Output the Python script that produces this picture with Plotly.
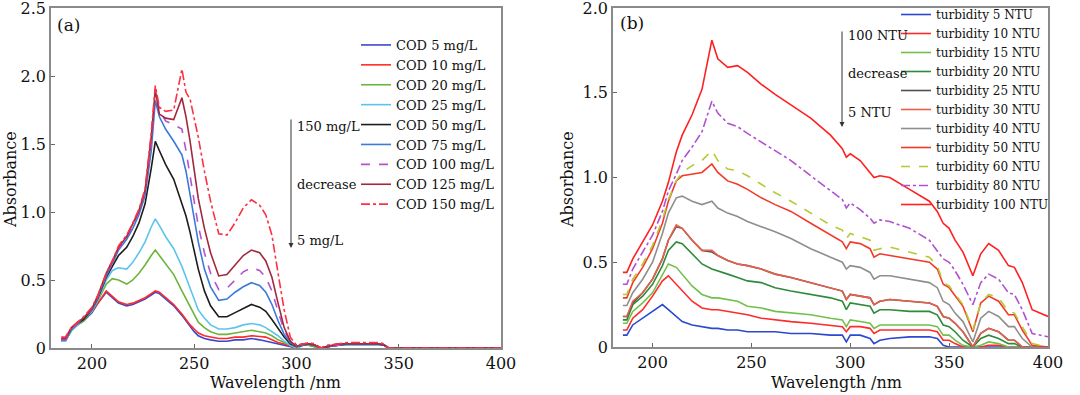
import plotly.graph_objects as go

# ---------------- Panel (a): COD spectra ----------------
wl_a = [185, 187, 190, 193, 196, 200, 203, 207, 210, 213, 217, 220, 223, 226, 229, 231, 233, 236,
        240, 244, 246, 248, 250, 252, 255, 258, 262, 266, 270, 274, 278, 282, 285, 288, 291, 294,
        297, 300, 303, 306, 309, 312, 315, 320, 325, 330, 335, 340, 343, 345, 350, 400]

cod_names = ["COD 5 mg/L", "COD 10 mg/L", "COD 20 mg/L", "COD 25 mg/L", "COD 50 mg/L",
             "COD 75 mg/L", "COD 100 mg/L", "COD 125 mg/L", "COD 150 mg/L"]

cod_5 = [0.05, 0.05, 0.13, 0.17, 0.20, 0.26, 0.33, 0.41, 0.37, 0.33, 0.31, 0.32, 0.34, 0.36, 0.39, 0.41, 0.40, 0.36,
         0.31, 0.24, 0.20, 0.16, 0.12, 0.09, 0.07, 0.06, 0.05, 0.05, 0.06, 0.06, 0.07, 0.06, 0.05, 0.04, 0.03, 0.02,
         0.01, 0.00, 0.02, 0.02, 0.01, 0.00, 0.01, 0.02, 0.02, 0.02, 0.02, 0.02, 0.02, 0.00, 0.00, 0.00]
cod_10 = [0.06, 0.06, 0.14, 0.18, 0.21, 0.27, 0.33, 0.42, 0.38, 0.34, 0.32, 0.33, 0.35, 0.37, 0.40, 0.42, 0.41, 0.37,
          0.32, 0.25, 0.21, 0.17, 0.14, 0.11, 0.09, 0.08, 0.07, 0.07, 0.08, 0.08, 0.09, 0.085, 0.08, 0.06, 0.04, 0.03,
          0.015, 0.00, 0.02, 0.03, 0.02, 0.00, 0.01, 0.02, 0.03, 0.03, 0.03, 0.03, 0.02, 0.00, 0.00, 0.00]
cod_20 = [0.05, 0.05, 0.13, 0.17, 0.20, 0.27, 0.35, 0.47, 0.51, 0.50, 0.47, 0.50, 0.55, 0.61, 0.68, 0.72, 0.68, 0.62,
          0.54, 0.42, 0.36, 0.30, 0.24, 0.19, 0.15, 0.12, 0.10, 0.10, 0.11, 0.12, 0.13, 0.12, 0.11, 0.09, 0.06, 0.04,
          0.02, 0.00, 0.02, 0.02, 0.01, 0.00, 0.01, 0.02, 0.02, 0.02, 0.02, 0.02, 0.02, 0.00, 0.00, 0.00]
cod_25 = [0.05, 0.05, 0.13, 0.17, 0.21, 0.27, 0.36, 0.50, 0.57, 0.59, 0.58, 0.63, 0.70, 0.78, 0.89, 0.95, 0.90, 0.82,
          0.73, 0.60, 0.52, 0.44, 0.36, 0.28, 0.22, 0.17, 0.14, 0.14, 0.15, 0.17, 0.18, 0.17, 0.15, 0.12, 0.09, 0.05,
          0.02, 0.00, 0.02, 0.03, 0.02, 0.00, 0.01, 0.02, 0.02, 0.02, 0.02, 0.02, 0.02, 0.00, 0.00, 0.00]
cod_50 = [0.06, 0.06, 0.14, 0.18, 0.21, 0.28, 0.37, 0.52, 0.60, 0.68, 0.74, 0.82, 0.92, 1.06, 1.32, 1.52, 1.45, 1.35,
          1.24, 1.07, 0.97, 0.85, 0.72, 0.58, 0.42, 0.31, 0.23, 0.23, 0.26, 0.29, 0.32, 0.30, 0.27, 0.21, 0.14, 0.08,
          0.03, 0.01, 0.02, 0.03, 0.02, 0.00, 0.01, 0.02, 0.03, 0.03, 0.03, 0.03, 0.02, 0.00, 0.00, 0.00]
cod_75 = [0.06, 0.06, 0.14, 0.18, 0.22, 0.28, 0.38, 0.53, 0.62, 0.72, 0.80, 0.88, 0.98, 1.12, 1.45, 1.82, 1.70, 1.61,
          1.52, 1.42, 1.30, 1.12, 0.95, 0.78, 0.58, 0.45, 0.35, 0.36, 0.41, 0.45, 0.48, 0.46, 0.41, 0.32, 0.20, 0.10,
          0.04, 0.01, 0.02, 0.03, 0.02, 0.00, 0.01, 0.02, 0.03, 0.03, 0.03, 0.03, 0.02, 0.00, 0.00, 0.00]
cod_100 = [0.06, 0.06, 0.14, 0.18, 0.22, 0.28, 0.38, 0.54, 0.63, 0.73, 0.81, 0.90, 1.00, 1.15, 1.50, 1.90, 1.75, 1.67,
           1.64, 1.61, 1.45, 1.25, 1.08, 0.90, 0.70, 0.55, 0.43, 0.44, 0.50, 0.56, 0.59, 0.57, 0.52, 0.42, 0.27, 0.13,
           0.05, 0.01, 0.03, 0.03, 0.02, 0.00, 0.01, 0.02, 0.03, 0.03, 0.03, 0.03, 0.02, 0.00, 0.00, 0.00]
cod_125 = [0.07, 0.07, 0.15, 0.19, 0.22, 0.29, 0.39, 0.55, 0.64, 0.74, 0.82, 0.91, 1.01, 1.16, 1.55, 1.90, 1.72, 1.69,
           1.68, 1.84, 1.70, 1.52, 1.30, 1.10, 0.88, 0.70, 0.53, 0.54, 0.61, 0.68, 0.72, 0.70, 0.64, 0.52, 0.33, 0.15,
           0.05, 0.01, 0.03, 0.03, 0.02, 0.00, 0.01, 0.03, 0.03, 0.03, 0.03, 0.03, 0.02, 0.00, 0.00, 0.00]
cod_150 = [0.08, 0.08, 0.15, 0.19, 0.23, 0.30, 0.39, 0.55, 0.64, 0.75, 0.83, 0.92, 1.02, 1.17, 1.58, 1.93, 1.77, 1.74,
           1.75, 2.05, 1.88, 1.83, 1.70, 1.55, 1.30, 1.08, 0.84, 0.83, 0.92, 1.03, 1.09, 1.05, 0.98, 0.83, 0.55, 0.28,
           0.08, 0.02, 0.03, 0.04, 0.03, 0.00, 0.02, 0.03, 0.04, 0.04, 0.04, 0.04, 0.03, 0.00, 0.00, 0.00]

cod_series = [cod_5, cod_10, cod_20, cod_25, cod_50, cod_75, cod_100, cod_125, cod_150]
cod_colors = ["#3a48c8", "#ff2a2a", "#6cb43c", "#5cc4ec", "#1c1c1c", "#3a7ad8", "#b452d2", "#a2283e", "#ff3040"]
cod_dash = ["solid", "solid", "solid", "solid", "solid", "solid", "dash", "solid", "dashdot"]

# ---------------- Panel (b): turbidity spectra ----------------
wl_b = [185, 187, 190, 195, 200, 205, 208, 212, 215, 220, 225, 230, 233, 238, 243, 248, 255, 262, 270, 280,
        290, 296, 298, 300, 305, 310, 312, 315, 320, 330, 340, 344, 347, 350, 353, 357, 362, 366, 370, 375,
        380, 383, 387, 392, 400]

ntu_names = ["turbidity 5 NTU", "turbidity 10 NTU", "turbidity 15 NTU", "turbidity 20 NTU",
             "turbidity 25 NTU", "turbidity 30 NTU", "turbidity 40 NTU", "turbidity 50 NTU",
             "turbidity 60 NTU", "turbidity 80 NTU", "turbidity 100 NTU"]

ntu_5 = [0.07, 0.07, 0.13, 0.17, 0.21, 0.25, 0.22, 0.18, 0.15, 0.13, 0.12, 0.11, 0.11, 0.10, 0.10, 0.09, 0.09, 0.09, 0.08, 0.08,
         0.07, 0.07, 0.03, 0.07, 0.07, 0.05, 0.02, 0.04, 0.05, 0.06, 0.06, 0.05, 0.01, 0.00, 0.00, 0.00, 0.00, 0.00, 0.00, 0.00,
         0.00, 0.00, 0.00, 0.00, 0.00]
ntu_10 = [0.10, 0.10, 0.17, 0.22, 0.30, 0.39, 0.42, 0.37, 0.33, 0.27, 0.23, 0.22, 0.22, 0.21, 0.20, 0.19, 0.17, 0.16, 0.15, 0.14,
          0.13, 0.12, 0.09, 0.12, 0.12, 0.11, 0.08, 0.10, 0.10, 0.10, 0.10, 0.09, 0.04, 0.04, 0.02, 0.00, 0.00, 0.00, 0.01, 0.01,
          0.00, 0.00, 0.00, 0.00, 0.00]
ntu_15 = [0.14, 0.14, 0.21, 0.26, 0.32, 0.43, 0.49, 0.47, 0.43, 0.36, 0.31, 0.29, 0.29, 0.28, 0.27, 0.24, 0.23, 0.21, 0.20, 0.19,
          0.17, 0.16, 0.12, 0.16, 0.15, 0.14, 0.11, 0.13, 0.13, 0.13, 0.13, 0.12, 0.07, 0.07, 0.04, 0.01, 0.00, 0.01, 0.03, 0.02,
          0.00, 0.00, 0.00, 0.00, 0.00]
ntu_20 = [0.16, 0.16, 0.25, 0.30, 0.37, 0.48, 0.57, 0.62, 0.61, 0.55, 0.49, 0.46, 0.45, 0.43, 0.41, 0.39, 0.38, 0.35, 0.33, 0.31,
          0.29, 0.27, 0.22, 0.26, 0.25, 0.24, 0.20, 0.22, 0.22, 0.21, 0.21, 0.19, 0.13, 0.12, 0.09, 0.04, 0.00, 0.05, 0.07, 0.05,
          0.02, 0.02, 0.00, 0.00, 0.00]
ntu_25 = [0.18, 0.18, 0.26, 0.32, 0.40, 0.52, 0.63, 0.71, 0.70, 0.63, 0.57, 0.56, 0.54, 0.51, 0.49, 0.48, 0.46, 0.43, 0.41, 0.38,
          0.35, 0.33, 0.28, 0.31, 0.30, 0.29, 0.25, 0.27, 0.28, 0.27, 0.26, 0.24, 0.18, 0.17, 0.14, 0.09, 0.00, 0.08, 0.11, 0.09,
          0.04, 0.04, 0.00, 0.00, 0.00]
ntu_30 = [0.18, 0.18, 0.27, 0.32, 0.40, 0.52, 0.63, 0.72, 0.70, 0.63, 0.57, 0.57, 0.54, 0.51, 0.49, 0.48, 0.46, 0.43, 0.41, 0.38,
          0.35, 0.33, 0.28, 0.31, 0.30, 0.29, 0.25, 0.27, 0.28, 0.27, 0.26, 0.24, 0.18, 0.17, 0.14, 0.09, 0.00, 0.08, 0.11, 0.09,
          0.04, 0.04, 0.00, 0.00, 0.00]
ntu_40 = [0.245, 0.245, 0.32, 0.40, 0.50, 0.67, 0.79, 0.88, 0.89, 0.86, 0.84, 0.86, 0.82, 0.79, 0.77, 0.74, 0.71, 0.68, 0.64, 0.58,
          0.53, 0.50, 0.46, 0.48, 0.47, 0.44, 0.40, 0.42, 0.42, 0.40, 0.38, 0.35, 0.27, 0.25, 0.20, 0.15, 0.03, 0.17, 0.21, 0.18,
          0.12, 0.12, 0.05, 0.00, 0.00]
ntu_50 = [0.29, 0.29, 0.38, 0.47, 0.58, 0.73, 0.86, 0.98, 1.01, 1.02, 1.03, 1.08, 1.03, 0.98, 0.96, 0.93, 0.88, 0.84, 0.80, 0.73,
          0.66, 0.62, 0.58, 0.62, 0.61, 0.58, 0.53, 0.55, 0.54, 0.52, 0.50, 0.46, 0.37, 0.35, 0.30, 0.24, 0.09, 0.26, 0.30, 0.27,
          0.19, 0.19, 0.10, 0.01, 0.00]
ntu_60 = [0.31, 0.31, 0.40, 0.49, 0.60, 0.75, 0.87, 0.98, 1.03, 1.07, 1.10, 1.16, 1.10, 1.05, 1.04, 1.01, 0.96, 0.91, 0.86, 0.79,
          0.72, 0.69, 0.64, 0.67, 0.65, 0.63, 0.57, 0.58, 0.59, 0.56, 0.53, 0.48, 0.38, 0.36, 0.31, 0.25, 0.10, 0.26, 0.31, 0.29,
          0.21, 0.20, 0.12, 0.02, 0.00]
ntu_80 = [0.37, 0.37, 0.46, 0.56, 0.66, 0.80, 0.92, 1.02, 1.10, 1.18, 1.27, 1.45, 1.38, 1.32, 1.30, 1.26, 1.21, 1.16, 1.10, 1.01,
          0.92, 0.87, 0.82, 0.85, 0.81, 0.76, 0.73, 0.75, 0.74, 0.70, 0.63, 0.57, 0.52, 0.50, 0.45, 0.37, 0.25, 0.38, 0.43, 0.40,
          0.32, 0.31, 0.22, 0.08, 0.06]
ntu_100 = [0.44, 0.44, 0.52, 0.62, 0.72, 0.86, 0.97, 1.15, 1.25, 1.37, 1.52, 1.81, 1.70, 1.65, 1.66, 1.62, 1.55, 1.49, 1.43, 1.35,
           1.25, 1.17, 1.12, 1.14, 1.10, 1.03, 1.00, 1.01, 1.00, 0.93, 0.86, 0.80, 0.73, 0.70, 0.63, 0.56, 0.42, 0.55, 0.61, 0.57,
           0.48, 0.47, 0.38, 0.22, 0.18]

ntu_series = [ntu_5, ntu_10, ntu_15, ntu_20, ntu_25, ntu_30, ntu_40, ntu_50, ntu_60, ntu_80, ntu_100]
ntu_colors = ["#2a48d0", "#ff2a2a", "#72c04c", "#2e8a3a", "#505050", "#e8604a", "#8e8e8e", "#f23a28",
              "#b8c832", "#b052d0", "#ff2020"]
ntu_dash = ["solid", "solid", "solid", "solid", "solid", "solid", "solid", "solid", "dash", "dashdot", "solid"]

# tick labels
a_yticks = [0, 0.5, 1.0, 1.5, 2.0, 2.5]
a_yticktext = ["0", "0.5", "1.0", "1.5", "2.0", "2.5"]
b_yticks = [0, 0.5, 1.0, 1.5, 2.0]
b_yticktext = ["0", "0.5", "1.0", "1.5", "2.0"]
x_ticks = [200, 250, 300, 350, 400]

FONT = "DejaVu Serif"
W, H = 1080, 395

fig = go.Figure()
for name, ys, col, dsh in zip(cod_names, cod_series, cod_colors, cod_dash):
    fig.add_trace(go.Scatter(x=wl_a, y=ys, name=name, mode="lines",
                             line=dict(color=col, width=1.6, dash=dsh),
                             xaxis="x", yaxis="y", legend="legend"))
for name, ys, col, dsh in zip(ntu_names, ntu_series, ntu_colors, ntu_dash):
    fig.add_trace(go.Scatter(x=wl_b, y=ys, name=name, mode="lines",
                             line=dict(color=col, width=1.6, dash=dsh),
                             xaxis="x2", yaxis="y2", legend="legend2"))

def px(x):
    return x / W

def py(y):
    return 1 - y / H

axis_common = dict(showline=True, linecolor="#8a8a8a", linewidth=1.5, mirror=True,
                   ticks="inside", ticklen=4, tickcolor="#666", showgrid=False, zeroline=False,
                   ticklabeloverflow="allow",
                   tickfont=dict(family=FONT, size=16, color="#111"))

fig.update_layout(
    width=W, height=H, paper_bgcolor="white", plot_bgcolor="white",
    margin=dict(l=0, r=0, t=0, b=0, autoexpand=False),
    xaxis=dict(domain=[px(51), px(501)], range=[180, 400], tickvals=x_ticks, anchor="y", **axis_common),
    yaxis=dict(domain=[py(348), py(8)], range=[0, 2.5], tickvals=a_yticks, ticktext=a_yticktext,
               anchor="x", **axis_common),
    xaxis2=dict(domain=[px(613), px(1048)], range=[180, 400], tickvals=x_ticks, anchor="y2", **axis_common),
    yaxis2=dict(domain=[py(347), py(8)], range=[0, 2.0], tickvals=b_yticks, ticktext=b_yticktext,
                anchor="x2", **axis_common),
    legend=dict(x=px(356), y=py(30), xanchor="left", yanchor="top", bgcolor="rgba(0,0,0,0)",
                font=dict(family=FONT, size=13, color="#111"), itemwidth=30),
    legend2=dict(x=px(896), y=1.0, xanchor="left", yanchor="top", bgcolor="rgba(0,0,0,0)",
                 font=dict(family=FONT, size=12, color="#111"), itemwidth=30),
    showlegend=True,
)

ann = []
def text(x, y, s, size=13, xanchor="left", angle=0):
    ann.append(dict(x=px(x), y=py(y), xref="paper", yref="paper", text=s, showarrow=False,
                    xanchor=xanchor, yanchor="middle", textangle=angle,
                    font=dict(family=FONT, size=size, color="#111")))

text(55, 25, "(a)", size=17)
text(618, 23, "(b)", size=17)
text(10, 180, "Absorbance", size=16, xanchor="center", angle=-90)
text(567, 180, "Absorbance", size=16, xanchor="center", angle=-90)
text(275, 382, "Wavelength /nm", size=16, xanchor="center")
text(836, 382, "Wavelength /nm", size=16, xanchor="center")
text(295, 127, "150 mg/L")
text(295, 184, "decrease")
text(295, 240, "5 mg/L")
text(846, 35, "100 NTU")
text(846, 73, "decrease")
text(846, 113, "5 NTU")

# arrows
ann.append(dict(x=px(291), y=py(248), xref="paper", yref="paper", ax=0, ay=-130, text="",
                showarrow=True, arrowhead=2, arrowsize=1, arrowwidth=1, arrowcolor="#333"))
ann.append(dict(x=px(842), y=py(127), xref="paper", yref="paper", ax=0, ay=-97, text="",
                showarrow=True, arrowhead=2, arrowsize=1, arrowwidth=1, arrowcolor="#333"))
fig.update_layout(annotations=ann)

fig.write_html("out.html", config={"displayModeBar": False},
               post_script="document.body.style.margin='0px';document.body.style.padding='0px';"
                           "document.documentElement.style.overflow='hidden';")
